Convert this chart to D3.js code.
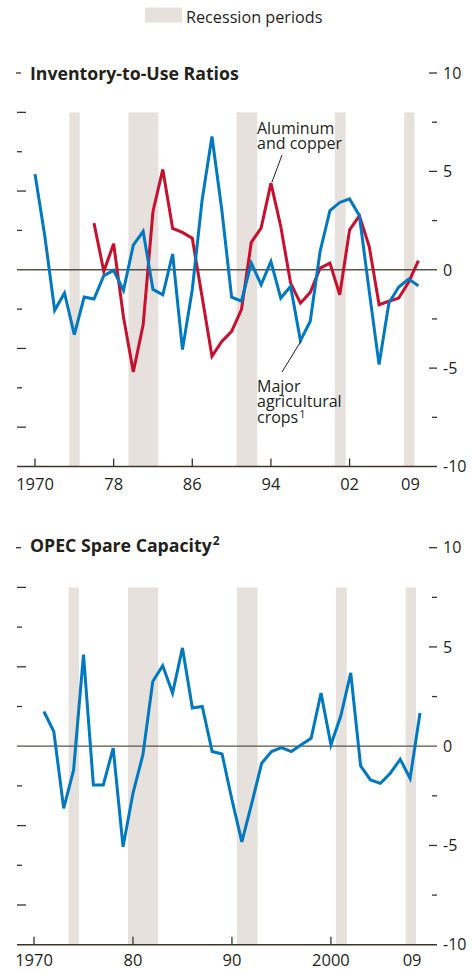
<!DOCTYPE html>
<html><head><meta charset="utf-8">
<script src="https://cdn.jsdelivr.net/npm/d3@7"></script>
<style>
body{margin:0;background:#fff}
text{font-family:"Open Sans",sans-serif;fill:#231f1a}
</style>
</head><body><svg id="c" width="472" height="973"></svg>
<script>
// ---------- data ----------
const agriYears = d3.range(1970, 2010);
const agriCrops = [4.87,1.7,-2.06,-1.18,-3.3,-1.39,-1.49,-0.3,-0.03,-1.05,
  1.25,1.95,-1.0,-1.27,0.8,-4.06,-1.0,3.55,6.77,3.05,
  -1.39,-1.6,0.34,-0.76,0.42,-1.44,-0.85,-3.6,-2.62,0.93,
  3.01,3.42,3.6,2.74,-1.1,-4.82,-1.69,-0.88,-0.47,-0.81];
const metalYears = d3.range(1976, 2010);
const aluminumCopper = [2.37,-0.08,1.32,-2.4,-5.2,-2.8,2.96,5.1,2.1,1.9,
  1.6,-1.39,-4.4,-3.64,-3.13,-2.03,1.39,2.12,4.4,2.2,
  -0.68,-1.7,-1.15,0.08,0.34,-1.27,2.03,2.74,1.18,-1.78,
  -1.6,-1.44,-0.64,0.46];
const opecYears = d3.range(1971, 2010);
const opecSpare = [1.75,0.74,-3.13,-1.2,4.61,-1.95,-1.95,-0.1,-5.07,-2.37,
  -0.44,3.26,4.06,2.68,4.95,1.92,2.0,-0.27,-0.39,-2.7,
  -4.82,-2.88,-0.86,-0.27,-0.07,-0.27,0.07,0.4,2.68,0.07,
  1.53,3.69,-0.99,-1.7,-1.87,-1.36,-0.66,-1.62,1.67];
const recessions = [[1973.5,1974.55],[1979.5,1982.55],[1990.5,1992.6],[2000.5,2001.6],[2007.55,2008.6]];
const rightTicks = [10,7.5,5,2.5,0,-2.5,-5,-7.5,-10];
const rightLabels = [10,5,0,-5,-10];
const leftTicks = [8,6,4,2,-2,-4,-6,-8];
const topXTicks = [1970,1978,1986,1994,2002];
const topXLabels = ["1970","78","86","94","02"];
const bottomXTicks = [1970,1980,1990,2000];
const bottomXLabels = ["1970","80","90","2000"];
const lastLabel = "09";

// ---------- style ----------
const C = {blue:"#0079c1", red:"#c8102e", shade:"#e6e1dc", ink:"#231f1a", axis:"#3b342b", zero:"#5a5347"};
const svg = d3.select("#c");

// legend
svg.append("rect").attr("x",145).attr("y",7.5).attr("width",37).attr("height",15).attr("fill",C.shade);
svg.append("text").attr("x",186).attr("y",22.5).style("font-size","16.2px").text("Recession periods");

function panel(cfg){
  const g = svg.append("g");
  const x = d3.scaleLinear().domain([1970,2009]).range(cfg.xr);
  const y = d3.scaleLinear().domain([-10,10]).range(cfg.yr);
  // shading
  g.selectAll("rect.rec").data(recessions).join("rect")
    .attr("x",d=>x(d[0])).attr("width",d=>x(d[1])-x(d[0]))
    .attr("y",y(8)).attr("height",y(-10)-y(8)).attr("fill",C.shade);
  // left ticks
  g.selectAll("line.lt").data(leftTicks).join("line")
    .attr("x1",17).attr("x2",d=>(Math.abs(d)%4===0)?26:22)
    .attr("y1",d=>y(d)).attr("y2",d=>y(d)).attr("stroke",C.axis).attr("stroke-width",1.3);
  g.append("line").attr("x1",16).attr("x2",21).attr("y1",y(10)).attr("y2",y(10)).attr("stroke",C.axis).attr("stroke-width",1.3);
  // title
  const t = g.append("text").attr("x",30).attr("y",cfg.titleY).style("font-size","17.7px").style("font-weight","700");
  t.append("tspan").text(cfg.title);
  if(cfg.sup) t.append("tspan").attr("dy",-7).attr("dx",1).style("font-size","12px").text(cfg.sup);
  // zero line
  g.append("line").attr("x1",17).attr("x2",437).attr("y1",y(0)).attr("y2",y(0)).attr("stroke",C.zero).attr("stroke-width",1.3);
  // right ticks
  g.selectAll("line.rt").data(rightTicks.filter(d=>d!==0 && d!==-10)).join("line")
    .attr("x1",d=>(d%5===0)?429:432).attr("x2",437)
    .attr("y1",d=>y(d)).attr("y2",d=>y(d)).attr("stroke",C.axis).attr("stroke-width",1.3);
  g.selectAll("text.rl").data(rightLabels).join("text")
    .attr("x",443).attr("y",d=>y(d)).attr("dy","0.36em").style("font-size","16px").text(d=>d);
  // bottom axis
  g.append("line").attr("x1",17).attr("x2",437).attr("y1",y(-10)).attr("y2",y(-10)).attr("stroke",C.axis).attr("stroke-width",1.5);
  g.selectAll("line.xt").data(cfg.xt).join("line")
    .attr("x1",d=>x(d)).attr("x2",d=>x(d)).attr("y1",y(-10)).attr("y2",y(-10)-8).attr("stroke",C.axis).attr("stroke-width",1.3);
  g.selectAll("text.xl").data(cfg.xt).join("text")
    .attr("x",d=>x(d)).attr("y",cfg.labelY).attr("text-anchor","middle").style("font-size","16.5px")
    .text((d,i)=>cfg.xl[i]);
  g.append("text").attr("x",x(2008.2)).attr("y",cfg.labelY).attr("text-anchor","middle").style("font-size","16.5px").text(lastLabel);
  // lines
  const line = d3.line().x(d=>x(d[0])).y(d=>y(d[1]));
  cfg.series.forEach(s=>{
    g.append("path").datum(d3.zip(s.years,s.values)).attr("d",line)
      .attr("fill","none").attr("stroke",s.color).attr("stroke-width",3).attr("stroke-linejoin","miter");
  });
  return {x,y,g};
}

const topPanel = panel({xr:[35,418.4], yr:[466.5,73], title:"Inventory-to-Use Ratios", titleY:80, labelY:490,
  xt:topXTicks, xl:topXLabels,
  series:[{years:metalYears, values:aluminumCopper, color:C.red},{years:agriYears, values:agriCrops, color:C.blue}]});
const botPanel = panel({xr:[34,420], yr:[944.7,547.7], title:"OPEC Spare Capacity", sup:"2", titleY:552, labelY:966,
  xt:bottomXTicks, xl:bottomXLabels,
  series:[{years:opecYears, values:opecSpare, color:C.blue}]});

// annotations (one text element per line)
const annoSize = "16px";
const note1 = [["Aluminum",133.5],["and copper",148.5]];
note1.forEach(([s,yy])=>svg.append("text").attr("x",257).attr("y",yy).style("font-size",annoSize).text(s));
svg.append("line").attr("x1",282).attr("y1",155).attr("x2",272).attr("y2",182).attr("stroke",C.ink).attr("stroke-width",1);
const note2 = [["Major",391.5],["agricultural",407],["crops",422.5]];
note2.forEach(([s,yy],i)=>{
  const t = svg.append("text").attr("x",257).attr("y",yy).style("font-size",annoSize).text(s);
  if(i===2) t.append("tspan").attr("dy",-5).attr("dx",1).style("font-size","11px").text("1");
});
svg.append("line").attr("x1",282).attr("y1",372).attr("x2",301).attr("y2",341).attr("stroke",C.ink).attr("stroke-width",1);
</script></body></html>
